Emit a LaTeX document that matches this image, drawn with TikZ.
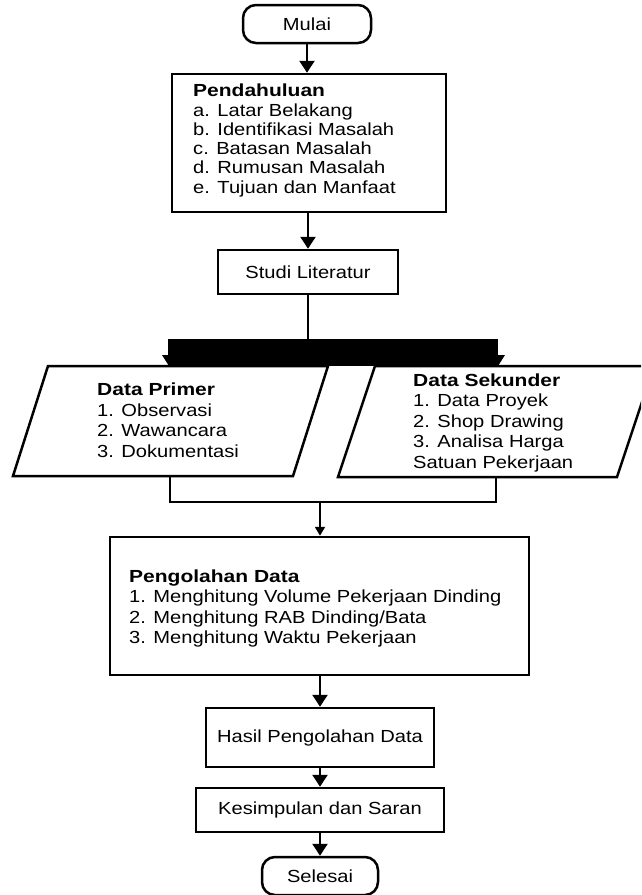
\documentclass[tikz,border=0pt]{standalone}
\usepackage{fontspec}
\setmainfont{Liberation Sans}[FakeStretch=1.15,BoldFeatures={FakeStretch=1.2}]
\usetikzlibrary{arrows.meta}
\begin{document}
\begin{tikzpicture}[x=1pt,y=-1pt,
  font=\fontsize{17.5}{20.5}\selectfont,
  every node/.style={inner sep=0pt},
  blk/.style={draw, line width=2.5pt, rectangle},
  term/.style={draw, line width=2.5pt, rectangle, rounded corners=13pt},
  txt/.style={align=left, anchor=west},
  pgram/.style={draw, line width=2.5pt, line join=miter},
  arr/.style={line width=2.5pt, -{Triangle[width=15pt,length=12pt]}},
  sarr/.style={line width=2pt, -{Triangle[width=10pt,length=9pt]}},
  ln/.style={line width=2.2pt}]
\useasboundingbox (0,0) rectangle (641,895);
\clip (0,0) rectangle (641,895);

% top part
\node[term, minimum width=128pt, minimum height=38pt] (mulai) at (307,24) {Mulai};
\node[blk, minimum width=274pt, minimum height=138pt] (pend) at (309,143) {};
\node[txt, font=\fontsize{17.5}{19.3}\selectfont] (pendtxt) at (193,140.5)
  {\textbf{Pendahuluan}\\a. Latar Belakang\\b. Identifikasi Masalah\\c. Batasan Masalah\\d. Rumusan Masalah\\e. Tujuan dan Manfaat};
\node[blk, minimum width=180pt, minimum height=44pt] (studi) at (308,272) {Studi Literatur};

% data parallelograms
\draw[pgram] (48,366) -- (328,366) -- (293,476) -- (13,476) -- cycle;
\draw[pgram] (375,366) -- (654,366) -- (617,477) -- (338,477) -- cycle;
\node[txt] (dp) at (97,420.3)
  {\textbf{Data Primer}\\1. Observasi\\2. Wawancara\\3. Dokumentasi};
\node[txt] (ds) at (413,422.5)
  {\textbf{Data Sekunder}\\1. Data Proyek\\2. Shop Drawing\\3. Analisa Harga\\Satuan Pekerjaan};

% split connector (thick bar)
\coordinate (split) at (308,339);
\coordinate (barL) at (169,366);
\coordinate (barR) at (498,366);
\draw[ln] (studi.south) -- (split);
\fill (168,339) rectangle (498,366);
\fill (162,355) -- (176,355) -- (barL) -- cycle;
\fill (492,355) -- (505,355) -- (barR) -- cycle;

% lower part
\node[blk, minimum width=419pt, minimum height=138pt] (peng) at (319.5,606) {};
\node[txt] (pengtxt) at (129,608.5)
  {\textbf{Pengolahan Data}\\1. Menghitung Volume Pekerjaan Dinding\\2. Menghitung RAB Dinding/Bata\\3. Menghitung Waktu Pekerjaan};
\node[blk, minimum width=228pt, minimum height=59pt] (hasil) at (320,737.5) {Hasil Pengolahan Data};
\node[blk, minimum width=248pt, minimum height=44pt] (kes) at (320,810) {Kesimpulan dan Saran};
\node[term, minimum width=116pt, minimum height=38pt] (sel) at (320,876) {Selesai};

% join connector
\coordinate (dpb) at (170,476);
\coordinate (dsb) at (496,477);
\coordinate (join) at (320,502);
\draw[ln, line width=2pt] (dpb) -- ++(0,26) -| (dsb);
\draw[sarr] (join) -- (join |- peng.north);

% arrows
\draw[arr] (mulai.south) -- (mulai.south |- pend.north);
\draw[arr] (studi.north |- pend.south) -- (studi.north);
\draw[arr] (hasil.north |- peng.south) -- (hasil.north);
\draw[arr] (hasil.south) -- (kes.north);
\draw[arr] (kes.south) -- (sel.north);
\end{tikzpicture}
\end{document}
